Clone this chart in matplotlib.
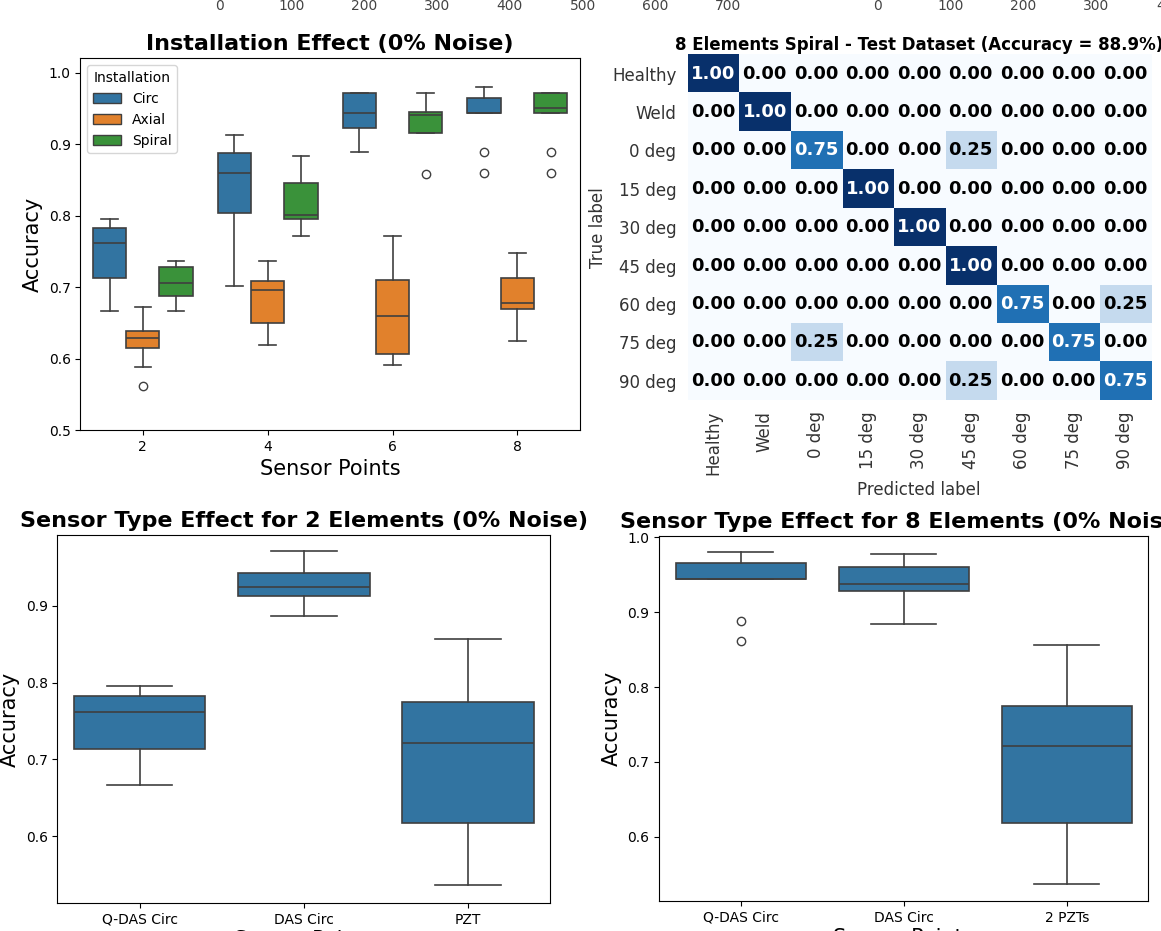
import numpy as np
import matplotlib.pyplot as plt
from matplotlib.patches import Patch

W, H = 1161, 931

# box statistics: (whislo, q1, med, q3, whishi, fliers)
groups = ["2", "4", "6", "8"]
installs = ["Circ", "Axial", "Spiral"]
install_colors = ["#3274a1", "#e1812c", "#3a923a"]

circ_stats = [
    (0.667, 0.713, 0.761, 0.782, 0.795, []),
    (0.702, 0.803, 0.859, 0.887, 0.913, []),
    (0.889, 0.923, 0.944, 0.972, 0.972, []),
    (0.944, 0.944, 0.944, 0.965, 0.980, [0.889, 0.860]),
]
axial_stats = [
    (0.588, 0.615, 0.629, 0.639, 0.672, [0.561]),
    (0.619, 0.649, 0.696, 0.709, 0.736, []),
    (0.591, 0.606, 0.659, 0.710, 0.772, []),
    (0.625, 0.669, 0.678, 0.712, 0.747, []),
]
spiral_stats = [
    (0.667, 0.687, 0.705, 0.728, 0.736, []),
    (0.772, 0.795, 0.801, 0.845, 0.883, []),
    (0.916, 0.916, 0.941, 0.945, 0.972, [0.858]),
    (0.944, 0.944, 0.951, 0.972, 0.972, [0.889, 0.860]),
]

sensors_2 = ["Q-DAS Circ", "DAS Circ", "PZT"]
sensor_stats_2 = [
    (0.666, 0.714, 0.761, 0.783, 0.795, []),
    (0.886, 0.913, 0.924, 0.942, 0.971, []),
    (0.536, 0.617, 0.721, 0.775, 0.857, []),
]

sensors_8 = ["Q-DAS Circ", "DAS Circ", "2 PZTs"]
sensor_stats_8 = [
    (0.944, 0.944, 0.945, 0.966, 0.980, [0.889, 0.861]),
    (0.884, 0.929, 0.938, 0.960, 0.978, []),
    (0.537, 0.618, 0.721, 0.775, 0.856, []),
]

classes = ["Healthy", "Weld", "0 deg", "15 deg", "30 deg",
           "45 deg", "60 deg", "75 deg", "90 deg"]
conf = np.array([
    [1.00, 0.00, 0.00, 0.00, 0.00, 0.00, 0.00, 0.00, 0.00],
    [0.00, 1.00, 0.00, 0.00, 0.00, 0.00, 0.00, 0.00, 0.00],
    [0.00, 0.00, 0.75, 0.00, 0.00, 0.25, 0.00, 0.00, 0.00],
    [0.00, 0.00, 0.00, 1.00, 0.00, 0.00, 0.00, 0.00, 0.00],
    [0.00, 0.00, 0.00, 0.00, 1.00, 0.00, 0.00, 0.00, 0.00],
    [0.00, 0.00, 0.00, 0.00, 0.00, 1.00, 0.00, 0.00, 0.00],
    [0.00, 0.00, 0.00, 0.00, 0.00, 0.00, 0.75, 0.00, 0.25],
    [0.00, 0.00, 0.25, 0.00, 0.00, 0.00, 0.00, 0.75, 0.00],
    [0.00, 0.00, 0.00, 0.00, 0.00, 0.25, 0.00, 0.00, 0.75],
])

top_ticks_a = [0, 100, 200, 300, 400, 500, 600, 700]
top_ticks_b = [0, 100, 200, 300, 400]

LINE = "#3f3f3f"


def px_axes(fig, l, t, r, b):
    return fig.add_axes([l / W, 1 - b / H, (r - l) / W, (b - t) / H])


def to_bxp(stats):
    out = []
    for lo, q1, med, q3, hi, fl in stats:
        out.append(dict(whislo=lo, q1=q1, med=med, q3=q3, whishi=hi, fliers=fl))
    return out


def draw_boxes(ax, stats, positions, width, color):
    ax.bxp(
        to_bxp(stats), positions=positions, widths=width,
        capwidths=width * 0.5, patch_artist=True, showfliers=True,
        boxprops=dict(facecolor=color, edgecolor=LINE, linewidth=1.2),
        medianprops=dict(color=LINE, linewidth=1.2),
        whiskerprops=dict(color=LINE, linewidth=1.2),
        capprops=dict(color=LINE, linewidth=1.2),
        flierprops=dict(marker="o", markerfacecolor="none",
                        markeredgecolor=LINE, markersize=6, markeredgewidth=1),
    )


fig = plt.figure(figsize=(W / 100, H / 100), dpi=100)

# leftover tick labels along the top edge
for l, r, ticks in [(219, 728, top_ticks_a), (878, 1169, top_ticks_b)]:
    axt = px_axes(fig, l, -3, r, -1)
    axt.set_xlim(ticks[0], ticks[-1])
    axt.set_xticks(ticks)
    axt.set_yticks([])
    axt.tick_params(axis="x", length=0, pad=0, labelsize=10, labelcolor="#444444")
    for s in axt.spines.values():
        s.set_visible(False)
    axt.patch.set_visible(False)

# installation effect
ax1 = px_axes(fig, 80.4, 58.3, 579.8, 430)
w = 0.8 / 3
x = np.arange(len(groups))
for i, (stats, color) in enumerate(zip([circ_stats, axial_stats, spiral_stats],
                                       install_colors)):
    draw_boxes(ax1, stats, x + (i - 1) * w, w, color)
ax1.set_xlim(-0.5, 3.5)
ax1.set_ylim(0.5, 1.02)
ax1.set_xticks(x)
ax1.set_xticklabels(groups)
ax1.tick_params(labelsize=10)
ax1.set_title("Installation Effect (0% Noise)", fontsize=16, fontweight="bold")
ax1.set_xlabel("Sensor Points", fontsize=15)
ax1.set_ylabel("Accuracy", fontsize=15)
handles = [Patch(facecolor=c, edgecolor=LINE, label=n)
           for n, c in zip(installs, install_colors)]
ax1.legend(handles=handles, title="Installation", loc="upper left",
           fontsize=10, title_fontsize=10)

# confusion matrix
ax2 = px_axes(fig, 687.6, 54.3, 1150.8, 400)
ax2.imshow(conf, cmap="Blues", vmin=0, vmax=1, aspect="auto")
for r in range(conf.shape[0]):
    for c in range(conf.shape[1]):
        v = conf[r, c]
        ax2.text(c, r, f"{v:.2f}", ha="center", va="center", fontsize=13,
                 fontweight="bold", color="white" if v > 0.5 else "black")
ax2.set_xticks(range(len(classes)))
ax2.set_yticks(range(len(classes)))
ax2.set_xticklabels(classes, rotation=90)
ax2.set_yticklabels(classes)
ax2.tick_params(length=0, pad=8, labelsize=12, labelcolor="#333333")
for s in ax2.spines.values():
    s.set_visible(False)
ax2.set_xlabel("Predicted label", fontsize=12, color="#333333")
ax2.set_ylabel("True label", fontsize=12, color="#333333")
ax2.set_title("8 Elements Spiral - Test Dataset (Accuracy = 88.9%)",
              fontsize=12, fontweight="bold", pad=3)

# sensor type effect, 2 elements
ax3 = px_axes(fig, 57.4, 535, 550.3, 903)
draw_boxes(ax3, sensor_stats_2, np.arange(3), 0.8, "#3274a1")
ax3.set_xlim(-0.5, 2.5)
ax3.set_ylim(0.513, 0.992)
ax3.set_xticks(range(3))
ax3.set_xticklabels(sensors_2)
ax3.set_yticks([0.6, 0.7, 0.8, 0.9])
ax3.tick_params(labelsize=10)
ax3.set_title("Sensor Type Effect for 2 Elements (0% Noise)", fontsize=16,
              fontweight="bold")
ax3.set_ylabel("Accuracy", fontsize=15)
ax3.set_xlabel("Sensor Points", fontsize=15, labelpad=2)

# sensor type effect, 8 elements
ax4 = px_axes(fig, 659.2, 536, 1148.3, 901)
draw_boxes(ax4, sensor_stats_8, np.arange(3), 0.8, "#3274a1")
ax4.set_xlim(-0.5, 2.5)
ax4.set_ylim(0.514, 1.002)
ax4.set_xticks(range(3))
ax4.set_xticklabels(sensors_8)
ax4.set_yticks([0.6, 0.7, 0.8, 0.9, 1.0])
ax4.tick_params(labelsize=10)
ax4.set_title("Sensor Type Effect for 8 Elements (0% Noise)", fontsize=16,
              fontweight="bold")
ax4.set_ylabel("Accuracy", fontsize=15)
ax4.set_xlabel("Sensor Points", fontsize=15, labelpad=2)

fig.savefig("out.png", dpi=100)
